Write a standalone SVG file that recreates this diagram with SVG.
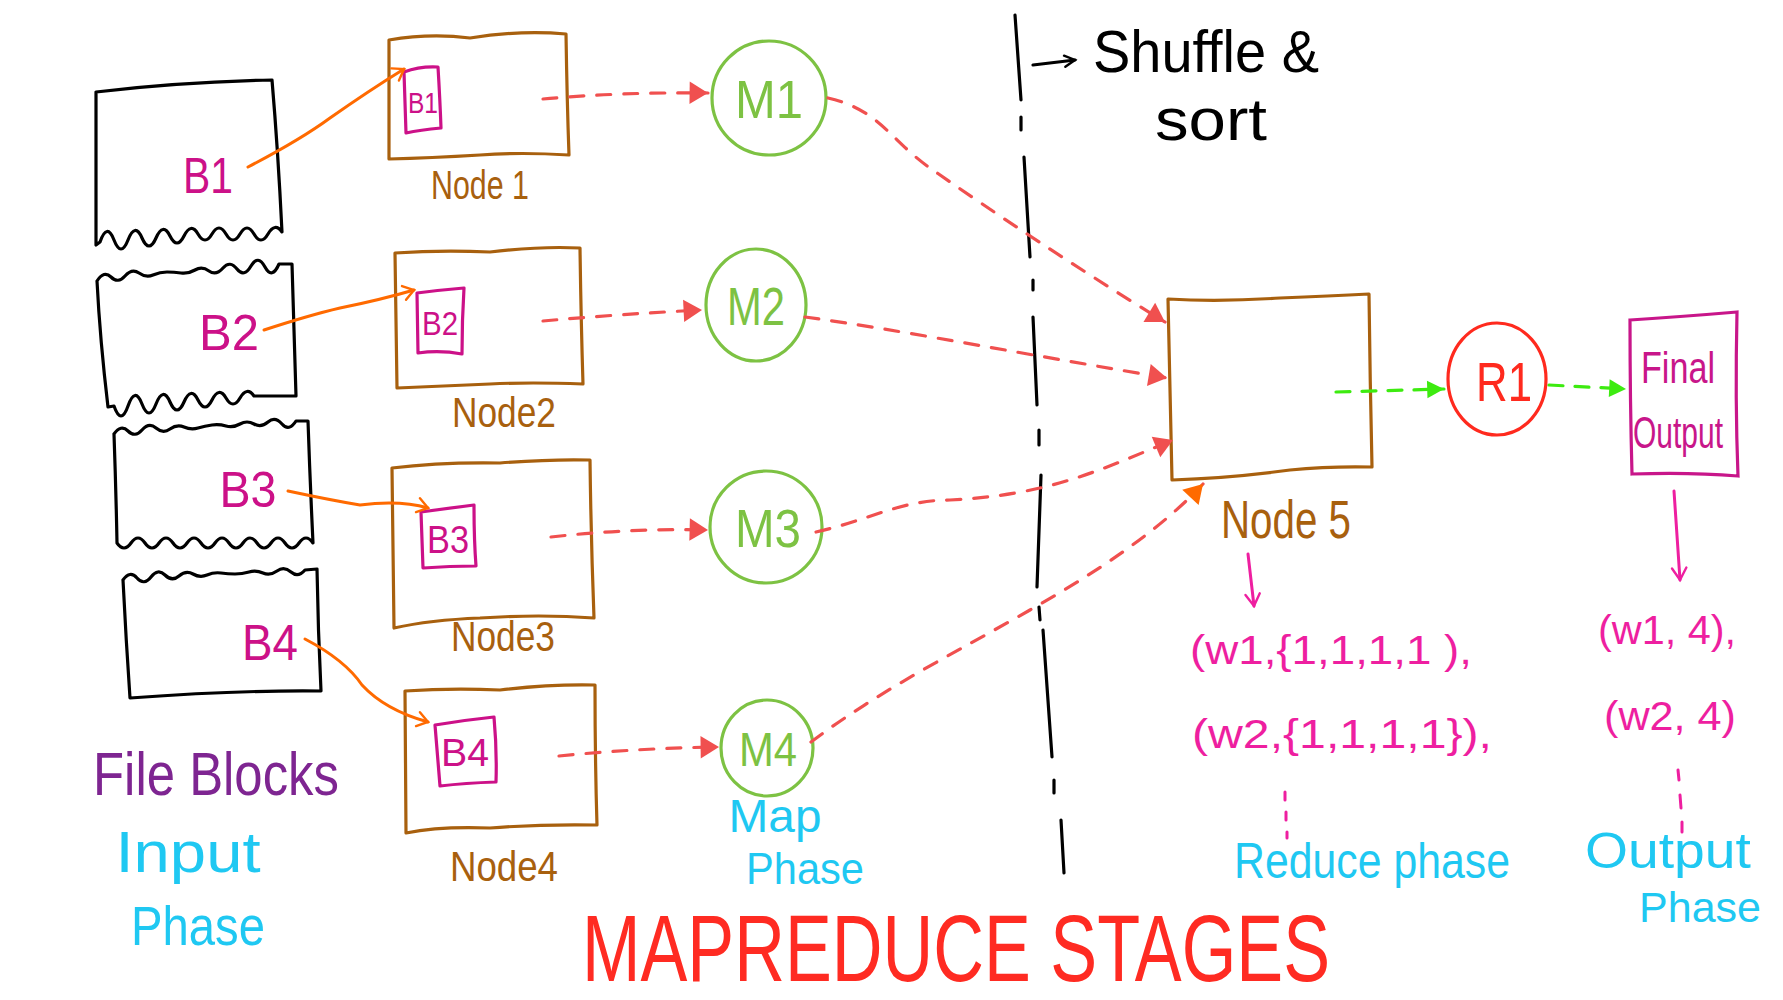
<svg xmlns="http://www.w3.org/2000/svg" width="1783" height="1000" viewBox="0 0 1783 1000">
<defs>
<style>
.blk{fill:none;stroke:#000;stroke-width:3.2;stroke-linejoin:round;stroke-linecap:round}
.node{fill:none;stroke:#A8600E;stroke-width:3.2;stroke-linejoin:round;stroke-linecap:round}
.inner{fill:none;stroke:#CC1188;stroke-width:3.2;stroke-linejoin:round}
.map{fill:none;stroke:#7DC243;stroke-width:3.2}
.red{fill:none;stroke:#F0504F;stroke-width:3.2;stroke-dasharray:14 13;stroke-linecap:round}
.org{fill:none;stroke:#FF6A00;stroke-width:3;stroke-linecap:round}
.grn{fill:none;stroke:#3DEB10;stroke-width:3.2;stroke-dasharray:14 12;stroke-linecap:round}
.pink{fill:none;stroke:#EE1FA0;stroke-width:3;stroke-linecap:round}
.t{font-family:"Liberation Sans",Arial,sans-serif}
.tb{fill:#CC1188}
.tn{fill:#A8600E}
.tm{fill:#7DC243}
.tc{fill:#1FC8F2}
.tp{fill:#EE1FA0}
</style>
<marker id="triR" viewBox="0 0 10 10" refX="9" refY="5" markerWidth="8" markerHeight="8" markerUnits="userSpaceOnUse" orient="auto" overflow="visible"><path d="M-14,-9 L9,5 L-14,19 Z" fill="#F0504F"/></marker>
<marker id="triO" viewBox="0 0 10 10" refX="9" refY="5" markerWidth="8" markerHeight="8" markerUnits="userSpaceOnUse" orient="auto" overflow="visible"><path d="M-14,-9 L9,5 L-14,19 Z" fill="#FF6A00"/></marker>
<marker id="triG" viewBox="0 0 10 10" refX="9" refY="5" markerWidth="8" markerHeight="8" markerUnits="userSpaceOnUse" orient="auto" overflow="visible"><path d="M-12,-6 L9,5 L-12,16 Z" fill="#3DEB10"/></marker>
<marker id="opO" viewBox="0 0 10 10" refX="9" refY="5" markerWidth="8" markerHeight="8" markerUnits="userSpaceOnUse" orient="auto" overflow="visible"><path d="M-4,-4 L9,5 L-4,14" fill="none" stroke="#FF6A00" stroke-width="3" stroke-linecap="round"/></marker>
<marker id="opP" viewBox="0 0 10 10" refX="9" refY="5" markerWidth="8" markerHeight="8" markerUnits="userSpaceOnUse" orient="auto" overflow="visible"><path d="M-6,-4 L9,5 L-6,14" fill="none" stroke="#EE1FA0" stroke-width="3" stroke-linecap="round"/></marker>
<marker id="opK" viewBox="0 0 10 10" refX="9" refY="5" markerWidth="8" markerHeight="8" markerUnits="userSpaceOnUse" orient="auto" overflow="visible"><path d="M-4,-2 L9,5 L-4,12" fill="none" stroke="#000" stroke-width="3" stroke-linecap="round"/></marker>
</defs>
<rect width="1783" height="1000" fill="#fff"/>

<!-- File blocks -->
<g id="block1">
<path class="blk" d="M96,92 Q180,82 272,80 Q278,150 282,232 Q275,222 268,234 T254,234 T240,234 T226,234 T212,234 T198,234 T184,236 T170,236 T156,238 T142,238 T128,240 T114,240 T100,242 L96,245 L96,92"/>
<text class="t tb" x="208" y="193" font-size="50" text-anchor="middle" textLength="50" lengthAdjust="spacingAndGlyphs">B1</text>
</g>
<g id="block2">
<path class="blk" d="M97,281 Q104,270 111,277 T125,276 T139,273 T153,275 T167,272 T181,273 T195,270 T209,271 T223,268 T237,269 T251,266 T265,267 T279,264 L292,264 Q294,330 296,396 L254,396 Q247,386 240,398 T226,398 T212,400 T198,400 T184,402 T170,402 T156,404 T142,404 T128,406 T114,406 L108,407 Q100,340 97,281"/>
<text class="t tb" x="229" y="350" font-size="50" text-anchor="middle" textLength="60" lengthAdjust="spacingAndGlyphs">B2</text>
</g>
<g id="block3">
<path class="blk" d="M114,434 Q121,424 128,431 T142,430 T156,428 T170,429 T184,427 T198,428 T212,425 T226,426 T240,424 T254,424 T268,422 T282,424 T296,421 L308,421 Q310,480 313,543 Q306,533 299,543 T285,543 T271,543 T257,543 T243,543 T229,543 T215,543 T201,543 T187,543 T173,543 T159,543 T145,543 T131,543 T117,543 Q116,490 114,434"/>
<text class="t tb" x="248" y="507" font-size="50" text-anchor="middle" textLength="57" lengthAdjust="spacingAndGlyphs">B3</text>
</g>
<g id="block4">
<path class="blk" d="M123,580 Q130,570 137,578 T151,577 T165,575 T179,576 T193,574 T207,575 T221,573 T235,574 T249,572 T263,573 T277,571 T291,572 T305,570 L317,569 Q318,630 321,691 Q240,690 130,698 Q126,640 123,580"/>
<text class="t tb" x="270" y="660" font-size="50" text-anchor="middle" textLength="56" lengthAdjust="spacingAndGlyphs">B4</text>
</g>
<text class="t" x="216" y="795" font-size="62" fill="#7E2591" text-anchor="middle" textLength="246" lengthAdjust="spacingAndGlyphs">File Blocks</text>
<text class="t tc" x="188" y="872" font-size="58" text-anchor="middle" textLength="145" lengthAdjust="spacingAndGlyphs">Input</text>
<text class="t tc" x="198" y="945" font-size="56" text-anchor="middle" textLength="134" lengthAdjust="spacingAndGlyphs">Phase</text>

<!-- Nodes 1-4 -->
<g id="node1">
<path class="node" d="M389,40 Q430,33 470,38 Q520,30 566,34 Q567,100 569,155 Q520,152 480,155 Q430,158 389,159 Z"/>
<path class="inner" d="M404,72 Q420,66 438,67 Q440,100 441,128 Q420,130 406,133 Z"/>
<text class="t tb" x="423" y="113" font-size="30" text-anchor="middle" textLength="30" lengthAdjust="spacingAndGlyphs">B1</text>
<text class="t tn" x="480" y="199" font-size="40" text-anchor="middle" textLength="98" lengthAdjust="spacingAndGlyphs">Node 1</text>
</g>
<g id="node2">
<path class="node" d="M395,253 Q440,250 490,252 Q540,246 580,248 Q581,320 583,384 Q530,382 490,384 Q440,386 397,388 Z"/>
<path class="inner" d="M417,293 Q440,290 464,288 Q462,320 462,354 Q440,350 418,353 Z"/>
<text class="t tb" x="440" y="335" font-size="34" text-anchor="middle" textLength="36" lengthAdjust="spacingAndGlyphs">B2</text>
<text class="t tn" x="504" y="427" font-size="42" text-anchor="middle" textLength="104" lengthAdjust="spacingAndGlyphs">Node2</text>
</g>
<g id="node3">
<path class="node" d="M392,468 Q440,462 500,463 Q550,459 590,460 Q591,540 594,618 Q540,614 480,618 Q430,620 394,628 Z"/>
<path class="inner" d="M421,512 Q450,508 474,505 Q474,540 476,566 Q450,566 423,568 Z"/>
<text class="t tb" x="448" y="553" font-size="38" text-anchor="middle" textLength="42" lengthAdjust="spacingAndGlyphs">B3</text>
<text class="t tn" x="503" y="651" font-size="42" text-anchor="middle" textLength="104" lengthAdjust="spacingAndGlyphs">Node3</text>
</g>
<g id="node4">
<path class="node" d="M405,691 Q450,688 500,690 Q550,684 595,685 Q595,760 597,825 Q540,824 490,828 Q440,826 406,833 Z"/>
<path class="inner" d="M435,725 Q465,720 494,717 Q497,750 496,782 Q465,783 440,786 Z"/>
<text class="t tb" x="465" y="766" font-size="38" text-anchor="middle" textLength="48" lengthAdjust="spacingAndGlyphs">B4</text>
<text class="t tn" x="504" y="881" font-size="42" text-anchor="middle" textLength="108" lengthAdjust="spacingAndGlyphs">Node4</text>
</g>

<!-- Map circles -->
<g id="m1"><ellipse class="map" cx="769" cy="98" rx="57" ry="57"/><text class="t tm" x="769" y="118" font-size="54" text-anchor="middle" textLength="68" lengthAdjust="spacingAndGlyphs">M1</text></g>
<g id="m2"><ellipse class="map" cx="756" cy="305" rx="50" ry="56"/><text class="t tm" x="756" y="325" font-size="54" text-anchor="middle" textLength="58" lengthAdjust="spacingAndGlyphs">M2</text></g>
<g id="m3"><ellipse class="map" cx="766" cy="527" rx="56" ry="56"/><text class="t tm" x="768" y="547" font-size="54" text-anchor="middle" textLength="66" lengthAdjust="spacingAndGlyphs">M3</text></g>
<g id="m4"><ellipse class="map" cx="767" cy="748" rx="46" ry="48"/><text class="t tm" x="768" y="766" font-size="48" text-anchor="middle" textLength="58" lengthAdjust="spacingAndGlyphs">M4</text></g>
<text class="t tc" x="775" y="832" font-size="46" text-anchor="middle" textLength="93" lengthAdjust="spacingAndGlyphs">Map</text>
<text class="t tc" x="805" y="884" font-size="44" text-anchor="middle" textLength="118" lengthAdjust="spacingAndGlyphs">Phase</text>

<!-- Shuffle & sort divider -->
<g id="shuffle">
<path class="blk" d="M1015,15 L1021,100 M1021,117 L1021,130 M1024,157 L1030,257 M1033,280 L1033,290 M1033,317 L1037,405 M1039,430 L1039,445 M1041,475 L1037,587 M1039,607 L1040,620 M1043,630 L1052,757 M1054,780 L1054,793 M1061,820 L1064,873"/>
<path class="blk" d="M1033,65 L1075,60" marker-end="url(#opK)"/>
<text class="t" x="1206" y="72" font-size="60" text-anchor="middle" textLength="226" lengthAdjust="spacingAndGlyphs">Shuffle &amp;</text>
<text class="t" x="1211" y="140" font-size="60" text-anchor="middle" textLength="112" lengthAdjust="spacingAndGlyphs">sort</text>
</g>

<!-- Node 5 -->
<g id="node5">
<path class="node" d="M1168,299 Q1220,302 1280,298 Q1330,296 1369,294 Q1370,380 1372,467 Q1330,466 1290,470 Q1230,478 1172,480 Z"/>
<text class="t tn" x="1286" y="538" font-size="54" text-anchor="middle" textLength="130" lengthAdjust="spacingAndGlyphs">Node 5</text>
</g>
<g id="r1">
<ellipse cx="1497" cy="379" rx="49" ry="56" fill="none" stroke="#FF2A1E" stroke-width="3.2"/>
<text x="1504" y="401" class="t" fill="#FF2A1E" font-size="56" text-anchor="middle" textLength="56" lengthAdjust="spacingAndGlyphs">R1</text>
</g>
<g id="final">
<path d="M1630,320 Q1690,316 1737,312 Q1735,400 1738,476 Q1690,472 1632,474 Q1630,400 1630,320 Z" fill="none" stroke="#C8168A" stroke-width="3.2"/>
<text class="t" x="1678" y="383" font-size="44" fill="#C8168A" text-anchor="middle" textLength="74" lengthAdjust="spacingAndGlyphs">Final</text>
<text class="t" x="1678" y="448" font-size="44" fill="#C8168A" text-anchor="middle" textLength="90" lengthAdjust="spacingAndGlyphs">Output</text>
</g>

<!-- Reduce/output texts -->
<g id="reduce-out">
<text class="t tp" x="1190" y="664" font-size="40" textLength="282" lengthAdjust="spacingAndGlyphs">(w1,{1,1,1,1 ),</text>
<text class="t tp" x="1192" y="748" font-size="40" textLength="300" lengthAdjust="spacingAndGlyphs">(w2,{1,1,1,1}),</text>
<path class="pink" d="M1285,792 L1285,800 M1286,812 L1286,820 M1287,832 L1287,838"/>
<text class="t tc" x="1372" y="878" font-size="50" text-anchor="middle" textLength="276" lengthAdjust="spacingAndGlyphs">Reduce phase</text>
<text class="t tp" x="1598" y="644" font-size="40" textLength="138" lengthAdjust="spacingAndGlyphs">(w1, 4),</text>
<text class="t tp" x="1604" y="730" font-size="40" textLength="132" lengthAdjust="spacingAndGlyphs">(w2, 4)</text>
<path class="pink" d="M1678,770 L1679,780 M1680,795 L1681,808 M1682,822 L1682,832"/>
<text class="t tc" x="1668" y="868" font-size="50" text-anchor="middle" textLength="166" lengthAdjust="spacingAndGlyphs">Output</text>
<text class="t tc" x="1700" y="922" font-size="42" text-anchor="middle" textLength="122" lengthAdjust="spacingAndGlyphs">Phase</text>
</g>

<!-- Connectors -->
<g id="connectors">
<path class="org" d="M248,167 Q300,140 330,118 Q370,90 404,69" marker-end="url(#opO)"/>
<path class="org" d="M264,330 Q310,315 340,308 Q380,300 414,290" marker-end="url(#opO)"/>
<path class="org" d="M288,491 Q330,500 360,505 Q400,500 428,508" marker-end="url(#opO)"/>
<path class="org" d="M305,639 Q345,660 362,685 Q385,710 428,722" marker-end="url(#opO)"/>
<path class="red" d="M543,99 Q620,92 708,93" marker-end="url(#triR)"/>
<path class="red" d="M543,321 Q620,314 702,310" marker-end="url(#triR)"/>
<path class="red" d="M551,537 Q630,528 708,530" marker-end="url(#triR)"/>
<path class="red" d="M559,756 Q640,748 719,747" marker-end="url(#triR)"/>
<path class="red" d="M828,98 C880,110 890,140 930,168 C990,210 1080,270 1165,322" marker-end="url(#triR)"/>
<path class="red" d="M805,317 C900,330 1000,350 1167,378" marker-end="url(#triR)"/>
<path class="red" d="M816,532 C870,520 900,500 950,500 C1050,495 1100,470 1173,440" marker-end="url(#triR)"/>
<path class="red" d="M811,742 C880,690 960,650 1030,610 C1100,570 1160,530 1203,484" marker-end="url(#triO)"/>
<path class="grn" d="M1336,392 L1444,389" marker-end="url(#triG)"/>
<path class="grn" d="M1549,385 L1626,389" marker-end="url(#triG)"/>
<path class="pink" d="M1248,554 L1254,606" marker-end="url(#opP)"/>
<path class="pink" d="M1674,491 L1680,580" marker-end="url(#opP)"/>
</g>

<text class="t" x="956" y="981" font-size="94" fill="#FF2B22" text-anchor="middle" textLength="748" lengthAdjust="spacingAndGlyphs">MAPREDUCE STAGES</text>
</svg>
